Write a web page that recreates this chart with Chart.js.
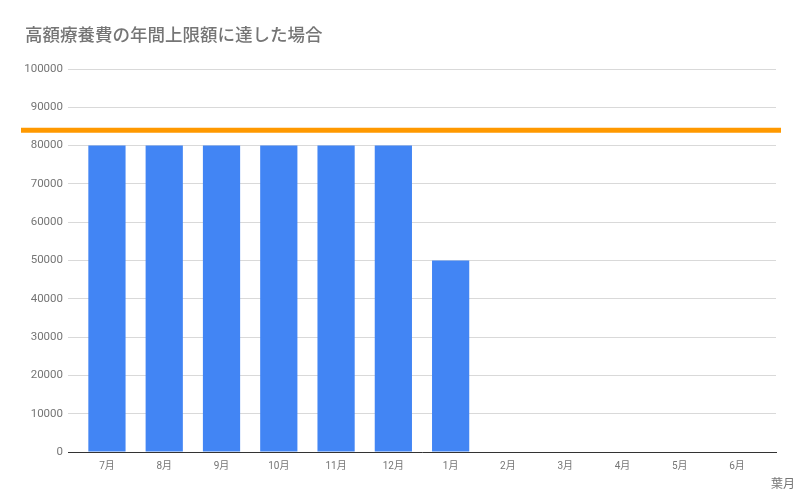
<!DOCTYPE html>
<html>
<head>
<meta charset="utf-8">
<script src="https://cdn.jsdelivr.net/npm/chart.js@4"></script>
<style>
  html, body { margin: 0; padding: 0; background: #fff; }
  #wrap { width: 800px; height: 496px; }
</style>
</head>
<body>
<div id="wrap"><canvas id="myChart" width="800" height="496"></canvas></div>
<script>
const months = ['7月','8月','9月','10月','11月','12月','1月','2月','3月','4月','5月','6月'];
const paid = [80000, 80000, 80000, 80000, 80000, 80000, 50000, 0, 0, 0, 0, 0];
const yearLimit = [84000];
const titleText = '高額療養費の年間上限額に達した場合';
const xTitle = '葉月';

// orange limit line across the whole chart plus the x axis name at the bottom right
const limitLine = {
    id: 'limitLine',
    afterDatasetsDraw(chart) {
        const ctx = chart.ctx;
        const y = chart.scales.y.getPixelForValue(yearLimit[0]);
        ctx.save();
        ctx.strokeStyle = '#ff9900';
        ctx.lineWidth = 5;
        ctx.beginPath();
        ctx.moveTo(21, y);
        ctx.lineTo(781, y);
        ctx.stroke();
        ctx.fillStyle = '#757575';
        ctx.font = '12px Roboto, "Noto Sans CJK JP"';
        ctx.textAlign = 'right';
        ctx.textBaseline = 'middle';
        ctx.fillText(xTitle, 795, 485);
        ctx.restore();
    }
};

// x is a month index so the bars can sit a bit inside the gridlines
const data = {
    datasets: [{
        label: '支払額',
        backgroundColor: '#4285f4',
        data: paid.map((v, i) => ({ x: i, y: v })),
        categoryPercentage: 1,
        barPercentage: 0.65
    }]
};

const config = {
    type: 'bar',
    data: data,
    plugins: [limitLine],
    options: {
        responsive: false,
        animation: false,
        layout: { padding: { left: 25, right: 24, top: 0, bottom: 0 } },
        plugins: {
            legend: { display: false },
            tooltip: { enabled: false },
            title: {
                display: true,
                text: titleText,
                align: 'start',
                color: '#757575',
                font: { family: 'Roboto, "Noto Sans CJK JP"', size: 17.5, weight: 500 },
                padding: { top: 26, bottom: 22 }
            }
        },
        scales: {
            x: {
                type: 'linear',
                min: -0.68,
                max: 11.68,
                offset: false,
                grid: { display: false, drawTicks: false },
                border: { color: '#333', width: 1 },
                ticks: {
                    stepSize: 1,
                    includeBounds: false,
                    autoSkip: false,
                    color: '#757575',
                    font: { family: 'Roboto, "Noto Sans CJK JP"', size: 10 },
                    padding: 8,
                    maxRotation: 0,
                    callback: (v) => months[v] ?? ''
                },
                afterFit(scale) { scale.height = 44; }
            },
            y: {
                min: 0,
                max: 100000,
                grid: { color: '#d9d9d9', drawTicks: false },
                border: { display: false },
                ticks: {
                    stepSize: 10000,
                    color: '#757575',
                    font: { family: 'Roboto, "Noto Sans CJK JP"', size: 11.5 },
                    padding: 5,
                    callback: (v) => String(v)
                },
                afterFit(scale) { scale.width = 43; }
            }
        }
    }
};

const myChart = new Chart(document.getElementById('myChart'), config);
</script>
</body>
</html>
